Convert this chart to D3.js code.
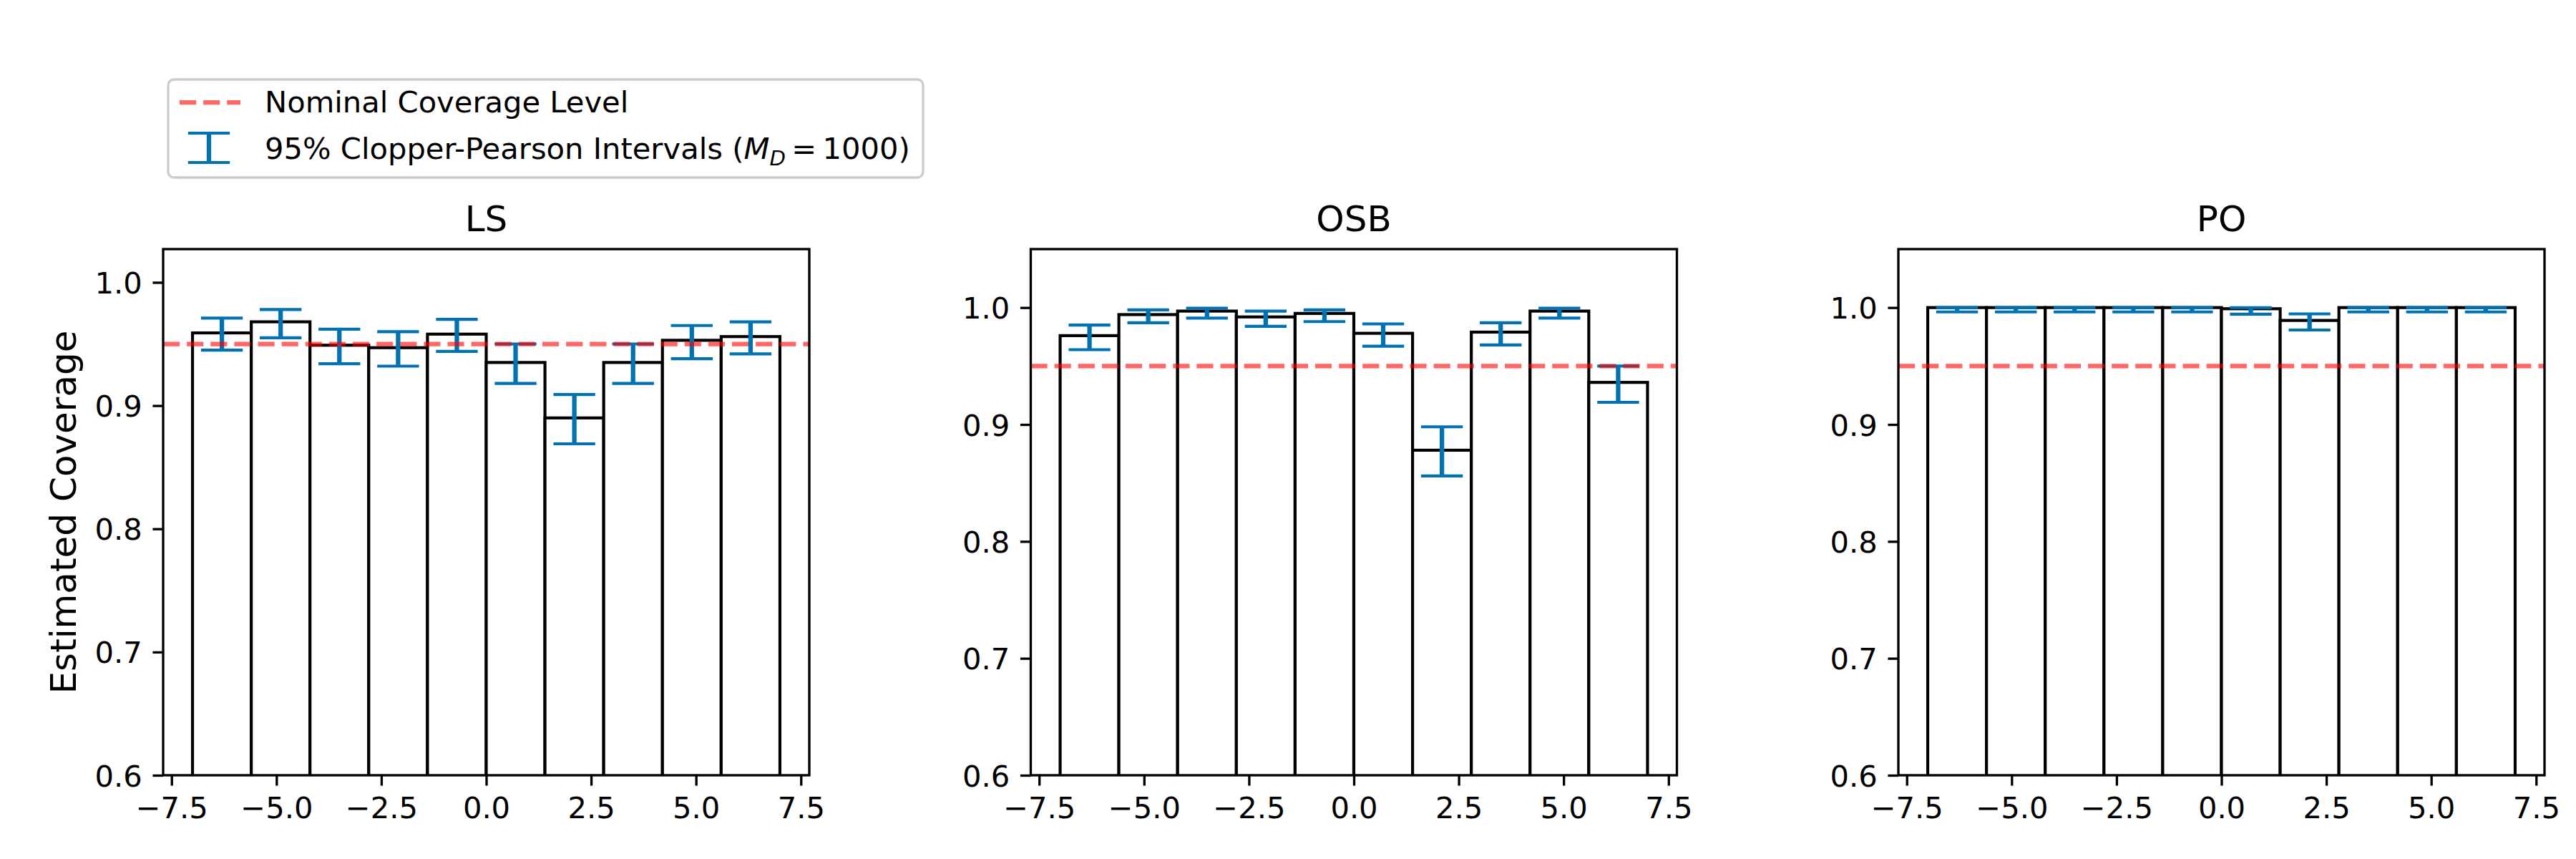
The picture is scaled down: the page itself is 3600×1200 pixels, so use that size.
<!DOCTYPE html>
<html>
<head>
<meta charset="utf-8">
<script src="https://cdn.jsdelivr.net/npm/d3@7"></script>
<style>
  html, body { margin: 0; padding: 0; background: #fff; }
  svg { display: block; font-family: 'DejaVu Sans', sans-serif; }
</style>
</head>
<body>
<div id="chart"></div>
<script>
// bin edges shared by all three panels
const binEdges = [-7, -5.6, -4.2, -2.8, -1.4, 0, 1.4, 2.8, 4.2, 5.6, 7]

const panelNames = ['LS', 'OSB', 'PO']

const lsCoverage = [0.959, 0.968, 0.949, 0.947, 0.958, 0.935, 0.890, 0.935, 0.953, 0.956]
const lsLower = [0.945, 0.955, 0.934, 0.932, 0.944, 0.918, 0.869, 0.918, 0.938, 0.942]
const lsUpper = [0.971, 0.978, 0.962, 0.960, 0.970, 0.950, 0.909, 0.950, 0.965, 0.968]

const osbCoverage = [0.976, 0.994, 0.997, 0.992, 0.995, 0.978, 0.878, 0.979, 0.997, 0.936]
const osbLower = [0.964, 0.987, 0.991, 0.984, 0.988, 0.967, 0.856, 0.968, 0.991, 0.919]
const osbUpper = [0.985, 0.998, 0.9995, 0.997, 0.998, 0.986, 0.898, 0.987, 0.9995, 0.950]

const poCoverage = [1.0, 1.0, 1.0, 1.0, 1.0, 0.999, 0.989, 1.0, 1.0, 1.0]
const poLower = [0.9963, 0.9963, 0.9963, 0.9963, 0.9963, 0.9944, 0.9808, 0.9963, 0.9963, 0.9963]
const poUpper = [1.0, 1.0, 1.0, 1.0, 1.0, 0.99997, 0.9946, 1.0, 1.0, 1.0]

const nominalLevel = 0.95
const xDomain = [-7.7, 7.7]
const yDomains = [[0.6, 1.027], [0.6, 1.05], [0.6, 1.05]]
const xTicks = [-7.5, -5.0, -2.5, 0.0, 2.5, 5.0, 7.5]
const yTicks = [0.6, 0.7, 0.8, 0.9, 1.0]

const legendLabels = ['Nominal Coverage Level', '95% Clopper-Pearson Intervals']

const panels = [
  { coverage: lsCoverage, lower: lsLower, upper: lsUpper },
  { coverage: osbCoverage, lower: osbLower, upper: osbUpper },
  { coverage: poCoverage, lower: poLower, upper: poUpper }
]

const W = 3600
const H = 1200
const pt = 300 / 72
const panelLefts = [228, 1440.5, 2653]
const panelWidth = 903
const plotTop = 348
const plotBottom = 1083
const errColor = '#0072B2'

const svg = d3.select('#chart')
  .append('svg')
  .attr('width', W)
  .attr('height', H)
  .attr('viewBox', `0 0 ${W} ${H}`)

svg.append('rect').attr('width', W).attr('height', H).attr('fill', '#fff')

panels.forEach((p, k) => {
  const left = panelLefts[k]
  const x = d3.scaleLinear().domain(xDomain).range([left, left + panelWidth])
  const y = d3.scaleLinear().domain(yDomains[k]).range([plotBottom, plotTop])

  const g = svg.append('g')

  const clipId = `clip-${k}`
  svg.append('clipPath').attr('id', clipId)
    .append('rect')
    .attr('x', left).attr('y', plotTop)
    .attr('width', panelWidth).attr('height', plotBottom - plotTop)

  const plot = g.append('g').attr('clip-path', `url(#${clipId})`)

  const bins = p.coverage.map((v, i) => ({
    x0: binEdges[i],
    x1: binEdges[i + 1],
    value: v,
    lo: p.lower[i],
    hi: p.upper[i]
  }))

  // bars (base at 0, clipped by the axes)
  plot.append('g')
    .selectAll('rect')
    .data(bins)
    .join('rect')
    .attr('x', d => x(d.x0))
    .attr('width', d => x(d.x1) - x(d.x0))
    .attr('y', d => y(d.value))
    .attr('height', d => y(0) - y(d.value))
    .attr('fill', '#fff')
    .attr('stroke', '#000')
    .attr('stroke-width', 1 * pt)

  // error bars
  const eb = plot.append('g').selectAll('g').data(bins).join('g')
  const capHalf = 7 * pt
  eb.append('line')
    .attr('x1', d => x((d.x0 + d.x1) / 2))
    .attr('x2', d => x((d.x0 + d.x1) / 2))
    .attr('y1', d => y(d.lo))
    .attr('y2', d => y(d.hi))
    .attr('stroke', errColor)
    .attr('stroke-width', 1.5 * pt)
  eb.selectAll('line.cap')
    .data(d => [{ c: (d.x0 + d.x1) / 2, v: d.lo }, { c: (d.x0 + d.x1) / 2, v: d.hi }])
    .join('line')
    .attr('class', 'cap')
    .attr('x1', d => x(d.c) - capHalf)
    .attr('x2', d => x(d.c) + capHalf)
    .attr('y1', d => y(d.v))
    .attr('y2', d => y(d.v))
    .attr('stroke', errColor)
    .attr('stroke-width', 1 * pt)

  // nominal coverage level
  plot.append('line')
    .attr('x1', x(xDomain[0]))
    .attr('x2', x(xDomain[1]))
    .attr('y1', y(nominalLevel))
    .attr('y2', y(nominalLevel))
    .attr('stroke', 'red')
    .attr('stroke-opacity', 0.6)
    .attr('stroke-width', 1.5 * pt)
    .attr('stroke-dasharray', `${3.7 * 1.5 * pt},${1.6 * 1.5 * pt}`)

  // axes
  const xAxis = d3.axisBottom(x)
    .tickValues(xTicks)
    .tickFormat(d3.format('.1f'))
    .tickSizeInner(3.5 * pt)
    .tickSizeOuter(0)
    .tickPadding(15.5)
  const yAxis = d3.axisLeft(y)
    .tickValues(yTicks)
    .tickFormat(d3.format('.1f'))
    .tickSizeInner(3.5 * pt)
    .tickSizeOuter(0)
    .tickPadding(3.5 * pt)

  const gx = g.append('g').attr('transform', `translate(0,${plotBottom})`).call(xAxis)
  const gy = g.append('g').attr('transform', `translate(${left},0)`).call(yAxis)
  ;[gx, gy].forEach(a => {
    a.select('.domain').remove()
    a.selectAll('.tick line').attr('stroke', '#000').attr('stroke-width', 0.8 * pt)
    a.selectAll('.tick text')
      .attr('fill', '#000')
      .style('font-size', `${10 * pt}px`)
      .style('font-family', "'DejaVu Sans', sans-serif")
  })
  gy.selectAll('.tick text').attr('dy', '0.36em')

  // spines
  g.append('rect')
    .attr('x', left).attr('y', plotTop)
    .attr('width', panelWidth).attr('height', plotBottom - plotTop)
    .attr('fill', 'none')
    .attr('stroke', '#000')
    .attr('stroke-width', 0.8 * pt)

  // title
  g.append('text')
    .attr('x', left + panelWidth / 2)
    .attr('y', plotTop - 6 * pt)
    .attr('text-anchor', 'middle')
    .style('font-size', `${12 * pt}px`)
    .text(panelNames[k])
})

// y label
svg.append('text')
  .attr('transform', `translate(106,${(plotTop + plotBottom) / 2}) rotate(-90)`)
  .attr('text-anchor', 'middle')
  .style('font-size', `${12 * pt}px`)
  .text('Estimated Coverage')

// legend
const lg = svg.append('g')
lg.append('rect')
  .attr('x', 235).attr('y', 111)
  .attr('width', 1055).attr('height', 137)
  .attr('rx', 8)
  .attr('fill', '#fff')
  .attr('fill-opacity', 0.8)
  .attr('stroke', '#cccccc')
  .attr('stroke-width', 0.8 * pt)

lg.append('line')
  .attr('x1', 251).attr('x2', 336)
  .attr('y1', 143).attr('y2', 143)
  .attr('stroke', 'red')
  .attr('stroke-opacity', 0.6)
  .attr('stroke-width', 1.5 * pt)
  .attr('stroke-dasharray', `${3.7 * 1.5 * pt},${1.6 * 1.5 * pt}`)

lg.append('line')
  .attr('x1', 292).attr('x2', 292)
  .attr('y1', 186).attr('y2', 227)
  .attr('stroke', errColor)
  .attr('stroke-width', 1.5 * pt)
;[186, 227].forEach(cy => {
  lg.append('line')
    .attr('x1', 292 - 7 * pt).attr('x2', 292 + 7 * pt)
    .attr('y1', cy).attr('y2', cy)
    .attr('stroke', errColor)
    .attr('stroke-width', 1 * pt)
})

lg.append('text')
  .attr('x', 370).attr('y', 157)
  .style('font-size', `${10 * pt}px`)
  .text(legendLabels[0])

const t2 = lg.append('text')
  .attr('x', 370).attr('y', 222)
  .style('font-size', `${10 * pt}px`)
t2.append('tspan').text(legendLabels[1] + ' (')
t2.append('tspan').style('font-style', 'italic').text('M')
t2.append('tspan').style('font-style', 'italic').style('font-size', `${7 * pt}px`).attr('dy', 9).text('D')
t2.append('tspan').attr('dy', -9).text('\u2009=\u20091000)')
</script>
</body>
</html>
